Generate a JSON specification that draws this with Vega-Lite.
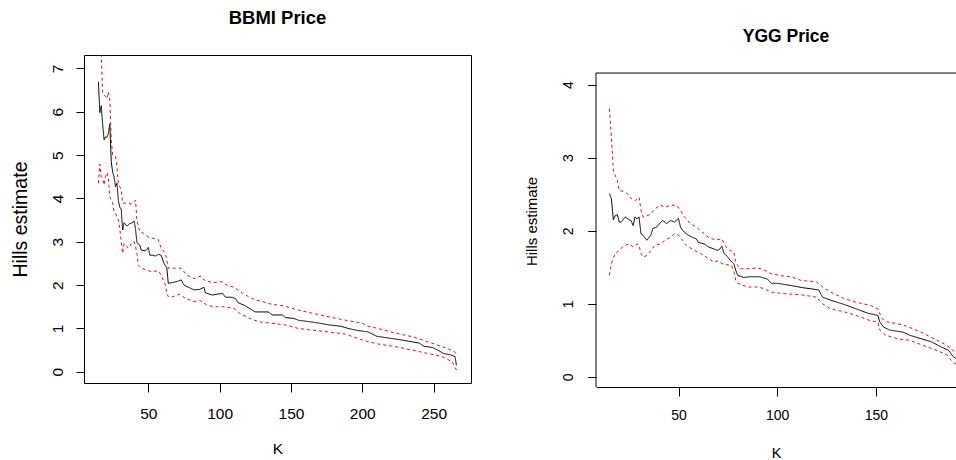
{
  "$schema": "https://vega.github.io/schema/vega-lite/v6.json",
  "padding": {"left": 9, "top": 8, "right": 0, "bottom": 0},
  "spacing": 52,
  "config": {
    "font": "Liberation Sans",
    "view": {"stroke": "black", "strokeWidth": 1},
    "axis": {"grid": false, "tickColor": "black", "labelColor": "black", "titleColor": "black", "titleFontWeight": "normal", "domainColor": "black", "labelFont": "Liberation Sans", "titleFont": "Liberation Sans"}
  },
  "datasets": {
    "bbmi": [
      {"K":15,"hill":6.69,"series":"est"},{"K":16,"hill":5.98,"series":"est"},{"K":17,"hill":6.14,"series":"est"},{"K":18,"hill":5.7,"series":"est"},{"K":19,"hill":5.35,"series":"est"},{"K":20,"hill":5.42,"series":"est"},{"K":21,"hill":5.41,"series":"est"},{"K":22,"hill":5.5,"series":"est"},{"K":23,"hill":5.72,"series":"est"},{"K":24,"hill":4.85,"series":"est"},{"K":25,"hill":4.6,"series":"est"},{"K":26,"hill":4.5,"series":"est"},{"K":27,"hill":4.27,"series":"est"},{"K":28,"hill":4.35,"series":"est"},{"K":29,"hill":3.95,"series":"est"},{"K":30,"hill":3.8,"series":"est"},{"K":31,"hill":3.75,"series":"est"},{"K":32,"hill":3.27,"series":"est"},{"K":33,"hill":3.44,"series":"est"},{"K":35,"hill":3.36,"series":"est"},{"K":37,"hill":3.42,"series":"est"},{"K":39,"hill":3.44,"series":"est"},{"K":40,"hill":3.48,"series":"est"},{"K":41,"hill":3.3,"series":"est"},{"K":42,"hill":2.98,"series":"est"},{"K":44,"hill":2.92,"series":"est"},{"K":45,"hill":2.81,"series":"est"},{"K":47,"hill":2.79,"series":"est"},{"K":49,"hill":2.82,"series":"est"},{"K":50,"hill":2.87,"series":"est"},{"K":51,"hill":2.69,"series":"est"},{"K":53,"hill":2.69,"series":"est"},{"K":55,"hill":2.67,"series":"est"},{"K":57,"hill":2.71,"series":"est"},{"K":59,"hill":2.69,"series":"est"},{"K":61,"hill":2.5,"series":"est"},{"K":63,"hill":2.39,"series":"est"},{"K":64,"hill":2.04,"series":"est"},{"K":67,"hill":2.06,"series":"est"},{"K":70,"hill":2.08,"series":"est"},{"K":73,"hill":2.12,"series":"est"},{"K":75,"hill":2.0,"series":"est"},{"K":78,"hill":1.95,"series":"est"},{"K":82,"hill":1.89,"series":"est"},{"K":86,"hill":1.9,"series":"est"},{"K":89,"hill":1.95,"series":"est"},{"K":90,"hill":1.82,"series":"est"},{"K":95,"hill":1.77,"series":"est"},{"K":98,"hill":1.79,"series":"est"},{"K":102,"hill":1.81,"series":"est"},{"K":104,"hill":1.72,"series":"est"},{"K":108,"hill":1.72,"series":"est"},{"K":111,"hill":1.69,"series":"est"},{"K":113,"hill":1.59,"series":"est"},{"K":117,"hill":1.54,"series":"est"},{"K":121,"hill":1.46,"series":"est"},{"K":125,"hill":1.38,"series":"est"},{"K":134,"hill":1.38,"series":"est"},{"K":137,"hill":1.31,"series":"est"},{"K":144,"hill":1.31,"series":"est"},{"K":146,"hill":1.25,"series":"est"},{"K":152,"hill":1.23,"series":"est"},{"K":155,"hill":1.19,"series":"est"},{"K":164,"hill":1.15,"series":"est"},{"K":170,"hill":1.12,"series":"est"},{"K":177,"hill":1.08,"series":"est"},{"K":185,"hill":1.05,"series":"est"},{"K":190,"hill":1.0,"series":"est"},{"K":197,"hill":0.95,"series":"est"},{"K":204,"hill":0.92,"series":"est"},{"K":210,"hill":0.82,"series":"est"},{"K":216,"hill":0.79,"series":"est"},{"K":228,"hill":0.73,"series":"est"},{"K":235,"hill":0.69,"series":"est"},{"K":240,"hill":0.66,"series":"est"},{"K":243,"hill":0.59,"series":"est"},{"K":249,"hill":0.56,"series":"est"},{"K":253,"hill":0.5,"series":"est"},{"K":257,"hill":0.42,"series":"est"},{"K":262,"hill":0.39,"series":"est"},{"K":265,"hill":0.35,"series":"est"},{"K":266,"hill":0.15,"series":"est"},
      {"K":15,"hill":9.0,"series":"upper"},{"K":16,"hill":8.0,"series":"upper"},{"K":17,"hill":7.3,"series":"upper"},{"K":18,"hill":6.42,"series":"upper"},{"K":20,"hill":6.35,"series":"upper"},{"K":21,"hill":6.3,"series":"upper"},{"K":22,"hill":6.46,"series":"upper"},{"K":23,"hill":6.27,"series":"upper"},{"K":24,"hill":5.35,"series":"upper"},{"K":25,"hill":5.0,"series":"upper"},{"K":27,"hill":4.96,"series":"upper"},{"K":28,"hill":4.73,"series":"upper"},{"K":29,"hill":4.35,"series":"upper"},{"K":31,"hill":4.19,"series":"upper"},{"K":32,"hill":3.89,"series":"upper"},{"K":35,"hill":3.89,"series":"upper"},{"K":38,"hill":3.87,"series":"upper"},{"K":40,"hill":3.92,"series":"upper"},{"K":41,"hill":3.96,"series":"upper"},{"K":42,"hill":3.5,"series":"upper"},{"K":44,"hill":3.23,"series":"upper"},{"K":47,"hill":3.19,"series":"upper"},{"K":50,"hill":3.11,"series":"upper"},{"K":53,"hill":3.08,"series":"upper"},{"K":57,"hill":3.05,"series":"upper"},{"K":59,"hill":2.85,"series":"upper"},{"K":62,"hill":2.73,"series":"upper"},{"K":64,"hill":2.39,"series":"upper"},{"K":67,"hill":2.39,"series":"upper"},{"K":73,"hill":2.39,"series":"upper"},{"K":77,"hill":2.23,"series":"upper"},{"K":82,"hill":2.15,"series":"upper"},{"K":87,"hill":2.21,"series":"upper"},{"K":89,"hill":2.12,"series":"upper"},{"K":95,"hill":2.05,"series":"upper"},{"K":101,"hill":2.08,"series":"upper"},{"K":105,"hill":2.0,"series":"upper"},{"K":110,"hill":1.95,"series":"upper"},{"K":116,"hill":1.81,"series":"upper"},{"K":122,"hill":1.7,"series":"upper"},{"K":126,"hill":1.65,"series":"upper"},{"K":130,"hill":1.62,"series":"upper"},{"K":136,"hill":1.56,"series":"upper"},{"K":145,"hill":1.52,"series":"upper"},{"K":153,"hill":1.44,"series":"upper"},{"K":165,"hill":1.35,"series":"upper"},{"K":176,"hill":1.27,"series":"upper"},{"K":188,"hill":1.19,"series":"upper"},{"K":200,"hill":1.12,"series":"upper"},{"K":204,"hill":1.05,"series":"upper"},{"K":211,"hill":1.0,"series":"upper"},{"K":223,"hill":0.89,"series":"upper"},{"K":235,"hill":0.81,"series":"upper"},{"K":246,"hill":0.69,"series":"upper"},{"K":256,"hill":0.58,"series":"upper"},{"K":262,"hill":0.5,"series":"upper"},{"K":265,"hill":0.45,"series":"upper"},{"K":266,"hill":0.39,"series":"upper"},
      {"K":15,"hill":4.35,"series":"lower"},{"K":16,"hill":4.79,"series":"lower"},{"K":17,"hill":4.5,"series":"lower"},{"K":18,"hill":4.46,"series":"lower"},{"K":19,"hill":4.31,"series":"lower"},{"K":20,"hill":4.5,"series":"lower"},{"K":21,"hill":4.6,"series":"lower"},{"K":22,"hill":4.45,"series":"lower"},{"K":23,"hill":4.04,"series":"lower"},{"K":25,"hill":3.89,"series":"lower"},{"K":26,"hill":3.69,"series":"lower"},{"K":27,"hill":3.65,"series":"lower"},{"K":29,"hill":3.5,"series":"lower"},{"K":30,"hill":3.3,"series":"lower"},{"K":31,"hill":3.0,"series":"lower"},{"K":32,"hill":2.73,"series":"lower"},{"K":33,"hill":2.96,"series":"lower"},{"K":36,"hill":2.85,"series":"lower"},{"K":39,"hill":3.0,"series":"lower"},{"K":40,"hill":3.0,"series":"lower"},{"K":41,"hill":2.9,"series":"lower"},{"K":42,"hill":2.73,"series":"lower"},{"K":43,"hill":2.46,"series":"lower"},{"K":45,"hill":2.39,"series":"lower"},{"K":49,"hill":2.35,"series":"lower"},{"K":52,"hill":2.31,"series":"lower"},{"K":57,"hill":2.33,"series":"lower"},{"K":59,"hill":2.23,"series":"lower"},{"K":62,"hill":2.0,"series":"lower"},{"K":63,"hill":1.8,"series":"lower"},{"K":64,"hill":1.73,"series":"lower"},{"K":67,"hill":1.73,"series":"lower"},{"K":72,"hill":1.79,"series":"lower"},{"K":76,"hill":1.69,"series":"lower"},{"K":82,"hill":1.62,"series":"lower"},{"K":86,"hill":1.65,"series":"lower"},{"K":91,"hill":1.54,"series":"lower"},{"K":96,"hill":1.5,"series":"lower"},{"K":103,"hill":1.5,"series":"lower"},{"K":110,"hill":1.46,"series":"lower"},{"K":114,"hill":1.35,"series":"lower"},{"K":121,"hill":1.23,"series":"lower"},{"K":128,"hill":1.15,"series":"lower"},{"K":136,"hill":1.12,"series":"lower"},{"K":146,"hill":1.08,"series":"lower"},{"K":155,"hill":1.0,"series":"lower"},{"K":165,"hill":0.96,"series":"lower"},{"K":176,"hill":0.92,"series":"lower"},{"K":188,"hill":0.87,"series":"lower"},{"K":200,"hill":0.73,"series":"lower"},{"K":211,"hill":0.64,"series":"lower"},{"K":223,"hill":0.58,"series":"lower"},{"K":235,"hill":0.5,"series":"lower"},{"K":246,"hill":0.42,"series":"lower"},{"K":256,"hill":0.35,"series":"lower"},{"K":263,"hill":0.23,"series":"lower"},{"K":266,"hill":0.04,"series":"lower"}
    ],
    "ygg": [
      {"K":15,"hill":2.51,"series":"est"},{"K":16,"hill":2.44,"series":"est"},{"K":17,"hill":2.15,"series":"est"},{"K":18,"hill":2.21,"series":"est"},{"K":19,"hill":2.22,"series":"est"},{"K":20,"hill":2.12,"series":"est"},{"K":21,"hill":2.12,"series":"est"},{"K":23,"hill":2.19,"series":"est"},{"K":25,"hill":2.15,"series":"est"},{"K":26,"hill":2.14,"series":"est"},{"K":27,"hill":2.07,"series":"est"},{"K":28,"hill":2.19,"series":"est"},{"K":29,"hill":2.16,"series":"est"},{"K":30,"hill":2.19,"series":"est"},{"K":31,"hill":1.96,"series":"est"},{"K":32,"hill":1.94,"series":"est"},{"K":34,"hill":1.87,"series":"est"},{"K":36,"hill":1.94,"series":"est"},{"K":37,"hill":2.03,"series":"est"},{"K":39,"hill":2.05,"series":"est"},{"K":41,"hill":2.12,"series":"est"},{"K":42,"hill":2.14,"series":"est"},{"K":44,"hill":2.1,"series":"est"},{"K":46,"hill":2.14,"series":"est"},{"K":48,"hill":2.12,"series":"est"},{"K":50,"hill":2.17,"series":"est"},{"K":51,"hill":2.05,"series":"est"},{"K":52,"hill":2.01,"series":"est"},{"K":53,"hill":1.98,"series":"est"},{"K":55,"hill":1.94,"series":"est"},{"K":57,"hill":1.91,"series":"est"},{"K":59,"hill":1.89,"series":"est"},{"K":60,"hill":1.84,"series":"est"},{"K":63,"hill":1.82,"series":"est"},{"K":65,"hill":1.78,"series":"est"},{"K":68,"hill":1.75,"series":"est"},{"K":70,"hill":1.73,"series":"est"},{"K":71,"hill":1.75,"series":"est"},{"K":72,"hill":1.79,"series":"est"},{"K":73,"hill":1.69,"series":"est"},{"K":75,"hill":1.64,"series":"est"},{"K":76,"hill":1.6,"series":"est"},{"K":78,"hill":1.55,"series":"est"},{"K":79,"hill":1.46,"series":"est"},{"K":80,"hill":1.39,"series":"est"},{"K":83,"hill":1.36,"series":"est"},{"K":86,"hill":1.37,"series":"est"},{"K":91,"hill":1.37,"series":"est"},{"K":95,"hill":1.34,"series":"est"},{"K":97,"hill":1.28,"series":"est"},{"K":100,"hill":1.28,"series":"est"},{"K":107,"hill":1.25,"series":"est"},{"K":113,"hill":1.22,"series":"est"},{"K":121,"hill":1.19,"series":"est"},{"K":123,"hill":1.09,"series":"est"},{"K":127,"hill":1.05,"series":"est"},{"K":134,"hill":0.99,"series":"est"},{"K":140,"hill":0.93,"series":"est"},{"K":146,"hill":0.87,"series":"est"},{"K":151,"hill":0.84,"series":"est"},{"K":152,"hill":0.75,"series":"est"},{"K":154,"hill":0.68,"series":"est"},{"K":157,"hill":0.64,"series":"est"},{"K":164,"hill":0.61,"series":"est"},{"K":167,"hill":0.57,"series":"est"},{"K":173,"hill":0.52,"series":"est"},{"K":178,"hill":0.48,"series":"est"},{"K":183,"hill":0.41,"series":"est"},{"K":187,"hill":0.36,"series":"est"},{"K":189,"hill":0.28,"series":"est"},{"K":192,"hill":0.22,"series":"est"},
      {"K":15,"hill":3.67,"series":"upper"},{"K":16,"hill":3.28,"series":"upper"},{"K":17,"hill":2.82,"series":"upper"},{"K":19,"hill":2.69,"series":"upper"},{"K":20,"hill":2.55,"series":"upper"},{"K":22,"hill":2.54,"series":"upper"},{"K":24,"hill":2.51,"series":"upper"},{"K":26,"hill":2.44,"series":"upper"},{"K":28,"hill":2.41,"series":"upper"},{"K":30,"hill":2.46,"series":"upper"},{"K":31,"hill":2.28,"series":"upper"},{"K":32,"hill":2.19,"series":"upper"},{"K":33,"hill":2.19,"series":"upper"},{"K":36,"hill":2.23,"series":"upper"},{"K":38,"hill":2.3,"series":"upper"},{"K":41,"hill":2.35,"series":"upper"},{"K":43,"hill":2.32,"series":"upper"},{"K":46,"hill":2.35,"series":"upper"},{"K":49,"hill":2.35,"series":"upper"},{"K":51,"hill":2.28,"series":"upper"},{"K":53,"hill":2.19,"series":"upper"},{"K":56,"hill":2.1,"series":"upper"},{"K":59,"hill":2.05,"series":"upper"},{"K":63,"hill":1.96,"series":"upper"},{"K":66,"hill":1.89,"series":"upper"},{"K":70,"hill":1.88,"series":"upper"},{"K":72,"hill":1.89,"series":"upper"},{"K":74,"hill":1.78,"series":"upper"},{"K":76,"hill":1.73,"series":"upper"},{"K":78,"hill":1.71,"series":"upper"},{"K":79,"hill":1.57,"series":"upper"},{"K":81,"hill":1.48,"series":"upper"},{"K":86,"hill":1.48,"series":"upper"},{"K":90,"hill":1.49,"series":"upper"},{"K":93,"hill":1.47,"series":"upper"},{"K":97,"hill":1.41,"series":"upper"},{"K":103,"hill":1.38,"series":"upper"},{"K":107,"hill":1.37,"series":"upper"},{"K":112,"hill":1.32,"series":"upper"},{"K":120,"hill":1.3,"series":"upper"},{"K":123,"hill":1.23,"series":"upper"},{"K":127,"hill":1.16,"series":"upper"},{"K":134,"hill":1.07,"series":"upper"},{"K":140,"hill":1.02,"series":"upper"},{"K":147,"hill":0.98,"series":"upper"},{"K":151,"hill":0.93,"series":"upper"},{"K":153,"hill":0.8,"series":"upper"},{"K":156,"hill":0.75,"series":"upper"},{"K":164,"hill":0.71,"series":"upper"},{"K":173,"hill":0.61,"series":"upper"},{"K":181,"hill":0.5,"series":"upper"},{"K":186,"hill":0.43,"series":"upper"},{"K":189,"hill":0.36,"series":"upper"},{"K":192,"hill":0.32,"series":"upper"},
      {"K":15,"hill":1.39,"series":"lower"},{"K":16,"hill":1.55,"series":"lower"},{"K":17,"hill":1.62,"series":"lower"},{"K":18,"hill":1.69,"series":"lower"},{"K":20,"hill":1.73,"series":"lower"},{"K":22,"hill":1.79,"series":"lower"},{"K":25,"hill":1.82,"series":"lower"},{"K":27,"hill":1.78,"series":"lower"},{"K":29,"hill":1.82,"series":"lower"},{"K":30,"hill":1.8,"series":"lower"},{"K":31,"hill":1.69,"series":"lower"},{"K":32,"hill":1.64,"series":"lower"},{"K":34,"hill":1.66,"series":"lower"},{"K":36,"hill":1.73,"series":"lower"},{"K":38,"hill":1.8,"series":"lower"},{"K":41,"hill":1.82,"series":"lower"},{"K":43,"hill":1.87,"series":"lower"},{"K":46,"hill":1.91,"series":"lower"},{"K":48,"hill":1.96,"series":"lower"},{"K":50,"hill":1.94,"series":"lower"},{"K":52,"hill":1.87,"series":"lower"},{"K":54,"hill":1.8,"series":"lower"},{"K":58,"hill":1.73,"series":"lower"},{"K":61,"hill":1.69,"series":"lower"},{"K":64,"hill":1.64,"series":"lower"},{"K":68,"hill":1.57,"series":"lower"},{"K":70,"hill":1.59,"series":"lower"},{"K":72,"hill":1.55,"series":"lower"},{"K":77,"hill":1.52,"series":"lower"},{"K":78,"hill":1.45,"series":"lower"},{"K":79,"hill":1.32,"series":"lower"},{"K":80,"hill":1.28,"series":"lower"},{"K":85,"hill":1.23,"series":"lower"},{"K":90,"hill":1.23,"series":"lower"},{"K":93,"hill":1.21,"series":"lower"},{"K":97,"hill":1.16,"series":"lower"},{"K":103,"hill":1.14,"series":"lower"},{"K":113,"hill":1.12,"series":"lower"},{"K":120,"hill":1.09,"series":"lower"},{"K":123,"hill":1.0,"series":"lower"},{"K":127,"hill":0.93,"series":"lower"},{"K":134,"hill":0.89,"series":"lower"},{"K":140,"hill":0.84,"series":"lower"},{"K":147,"hill":0.77,"series":"lower"},{"K":151,"hill":0.75,"series":"lower"},{"K":152,"hill":0.64,"series":"lower"},{"K":155,"hill":0.57,"series":"lower"},{"K":161,"hill":0.52,"series":"lower"},{"K":167,"hill":0.5,"series":"lower"},{"K":174,"hill":0.43,"series":"lower"},{"K":181,"hill":0.36,"series":"lower"},{"K":186,"hill":0.3,"series":"lower"},{"K":189,"hill":0.2,"series":"lower"},{"K":192,"hill":0.15,"series":"lower"}
    ],
    "yggbox": [
      {"x1":8.2,"x2":8.2,"y1":-0.14,"y2":4.16},
      {"x1":8.2,"x2":190.6,"y1":4.16,"y2":4.16}
    ]
  },
  "hconcat": [
    {
      "title": {"text": "BBMI Price", "fontSize": 18.5, "fontWeight": "bold", "font": "Liberation Sans", "color": "black", "baseline": "alphabetic", "offset": 12.4, "anchor": "middle", "frame": "group"},
      "width": 387,
      "height": 328,
      "data": {"name": "bbmi"},
      "mark": {"type": "line", "clip": true, "strokeWidth": 1},
      "encoding": {
        "x": {"field": "K", "type": "quantitative", "scale": {"domain": [4.9, 276.2], "nice": false, "zero": false},
              "axis": {"orient": "bottom", "values": [50, 100, 150, 200, 250], "tickSize": 9, "labelFontSize": 15.5, "labelBaseline": "middle", "labelPadding": 21, "title": "K", "titleFontSize": 15.5, "titlePadding": 19.6, "domain": false}},
        "y": {"field": "hill", "type": "quantitative", "scale": {"domain": [-0.26, 7.31], "nice": false, "zero": false},
              "axis": {"values": [0, 1, 2, 3, 4, 5, 6, 7], "format": "d", "tickSize": 8, "labelFontSize": 15.5, "labelAngle": 270, "labelAlign": "center", "labelBaseline": "middle", "labelPadding": 19, "title": "Hills estimate", "titleFontSize": 19.5, "titlePadding": 20, "domain": false}},
        "color": {"field": "series", "type": "nominal", "scale": {"domain": ["est", "upper", "lower"], "range": ["black", "red", "red"]}, "legend": null},
        "strokeDash": {"field": "series", "type": "nominal", "scale": {"domain": ["est", "upper", "lower"], "range": [[1, 0], [3, 3], [3, 3]]}, "legend": null}
      }
    },
    {
      "title": {"text": "YGG Price", "fontSize": 17.5, "fontWeight": "bold", "font": "Liberation Sans", "color": "black", "baseline": "alphabetic", "offset": 0, "anchor": "middle", "frame": "group", "dx": 10, "dy": 4},
      "width": 360,
      "height": 332,
      "view": {"stroke": null},
      "layer": [
        {
          "data": {"name": "ygg"},
          "mark": {"type": "line", "clip": true, "strokeWidth": 1},
          "encoding": {
            "x": {"field": "K", "type": "quantitative", "scale": {"domain": [8.2, 190.6], "nice": false, "zero": false},
                  "axis": {"orient": "bottom", "values": [50, 100, 150], "tickSize": 9, "labelFontSize": 14, "labelBaseline": "middle", "labelPadding": 19, "title": "K", "titleFontSize": 14.5, "titlePadding": 24, "domain": true}},
            "y": {"field": "hill", "type": "quantitative", "scale": {"domain": [-0.14, 4.407], "nice": false, "zero": false},
                  "axis": {"orient": "left", "values": [0, 1, 2, 3, 4], "format": "d", "tickSize": 8.3, "labelFontSize": 14, "labelAngle": 270, "labelAlign": "center", "labelBaseline": "middle", "labelPadding": 19, "title": "Hills estimate", "titleFontSize": 15, "titlePadding": 22, "domain": false}},
            "color": {"field": "series", "type": "nominal", "scale": {"domain": ["est", "upper", "lower"], "range": ["black", "red", "red"]}, "legend": null},
            "strokeDash": {"field": "series", "type": "nominal", "scale": {"domain": ["est", "upper", "lower"], "range": [[1, 0], [3, 3], [3, 3]]}, "legend": null}
          }
        },
        {
          "data": {"name": "yggbox"},
          "mark": {"type": "rule", "color": "black", "strokeWidth": 1},
          "encoding": {
            "x": {"field": "x1", "type": "quantitative"},
            "x2": {"field": "x2"},
            "y": {"field": "y1", "type": "quantitative"},
            "y2": {"field": "y2"}
          }
        }
      ]
    }
  ]
}
